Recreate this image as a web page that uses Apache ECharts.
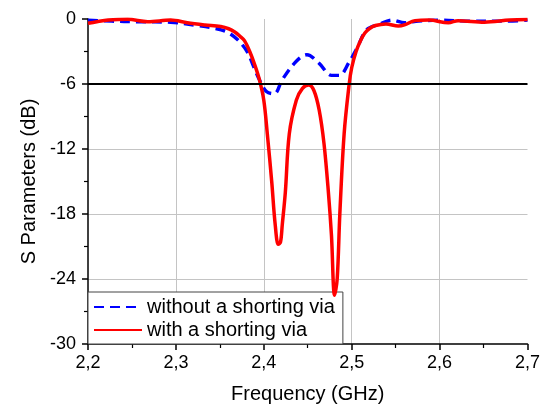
<!DOCTYPE html>
<html>
<head>
<meta charset="utf-8">
<script src="https://cdn.jsdelivr.net/npm/echarts@6/dist/echarts.min.js"></script>
<style>
  html, body { margin: 0; padding: 0; background: #fff; }
  #main { width: 543px; height: 412px; }
</style>
</head>
<body>
<div id="main"></div>
<script>
// frequency (GHz) / S parameter (dB)
var freqWithout = [2.200, 2.227, 2.255, 2.294, 2.324, 2.344, 2.358, 2.370, 2.381, 2.388, 2.395, 2.403, 2.412,
  2.421, 2.437, 2.449, 2.463, 2.477, 2.486, 2.497, 2.506, 2.517, 2.531, 2.546, 2.560, 2.576, 2.599, 2.636, 2.675, 2.700];
var sWithout = [-0.1, -0.2, -0.25, -0.3, -0.6, -0.86, -1.2, -1.9, -3.0, -4.3, -5.6, -6.7, -6.9,
  -5.6, -3.9, -3.3, -4.1, -5.2, -5.2, -4.0, -2.7, -1.0, -0.5, -0.1, -0.35, -0.2, -0.1, -0.2, -0.2, -0.1];

var freqWith = [2.200, 2.210, 2.223, 2.245, 2.268, 2.294, 2.313, 2.333, 2.351, 2.360, 2.367, 2.373, 2.378, 2.384,
  2.390, 2.395, 2.400, 2.404, 2.409, 2.413, 2.4165, 2.419, 2.421, 2.4245, 2.429, 2.437, 2.444, 2.451, 2.457,
  2.463, 2.4685, 2.4735, 2.477, 2.4805, 2.4835, 2.4865, 2.4914, 2.497, 2.500, 2.505, 2.510, 2.515, 2.520, 2.527,
  2.539, 2.553, 2.560, 2.572, 2.588, 2.610, 2.621, 2.651, 2.680, 2.700];
var sWith = [-0.4, -0.25, -0.1, -0.03, -0.25, -0.1, -0.35, -0.55, -0.7, -0.9, -1.2, -1.6, -2.0, -3.0,
  -4.3, -5.6, -7.5, -10.6, -15, -19, -20.8, -20.6, -19, -16, -10.6, -7.5, -6.4, -6.1, -6.6,
  -8.4, -11.5, -16, -20, -25.5, -24, -18, -10.6, -6.1, -4.5, -3.0, -2.0, -1.3, -0.9, -0.6,
  -0.45, -0.65, -0.55, -0.15, -0.1, -0.35, -0.15, -0.3, -0.1, -0.05];

var xTickLabels = ['2,2', '2,3', '2,4', '2,5', '2,6', '2,7'];
var yTickLabels = ['-30', '-24', '-18', '-12', '-6', '0'];
var refLevel = -6;

function pairs(xs, ys) {
  return xs.map(function (x, i) { return [x, ys[i]]; });
}

var font = 'Liberation Sans, Arial, sans-serif';
var dom = document.getElementById('main');
var myChart = echarts.init(dom, null, { renderer: 'canvas' });

var option = {
  animation: false,
  textStyle: { fontFamily: font },
  grid: { left: 88, right: 14, top: 19, bottom: 68 },
  legend: {
    orient: 'vertical',
    left: 88,
    top: 292,
    padding: [5, 8, 4, 5],
    itemWidth: 48,
    itemHeight: 18,
    itemGap: 3,
    itemStyle: { opacity: 0 },
    backgroundColor: '#fff',
    borderColor: '#444',
    borderWidth: 1,
    textStyle: { fontSize: 20, lineHeight: 20, color: '#000', fontFamily: font },
    data: ['without a shorting via', 'with a shorting via']
  },
  xAxis: {
    type: 'value',
    min: 2.2,
    max: 2.7,
    interval: 0.1,
    name: 'Frequency (GHz)',
    nameLocation: 'middle',
    nameGap: 40,
    nameTextStyle: { fontSize: 20, color: '#000', fontFamily: font },
    axisLine: { onZero: false, lineStyle: { color: '#000', width: 1.5 } },
    axisTick: { inside: false, length: 6, lineStyle: { color: '#000', width: 1.5 } },
    minorTick: { show: true, splitNumber: 2, length: 4, lineStyle: { color: '#000', width: 1.2 } },
    axisLabel: {
      fontSize: 18, color: '#000', margin: 10, fontFamily: font,
      formatter: function (v) { return xTickLabels[Math.round((v - 2.2) / 0.1)]; }
    },
    splitLine: { show: true, showMinLine: false, showMaxLine: false, lineStyle: { color: '#c4c4c4', width: 1 } }
  },
  yAxis: {
    type: 'value',
    min: -30,
    max: 0,
    interval: 6,
    name: 'S Parameters (dB)',
    nameLocation: 'middle',
    nameGap: 48,
    nameTextStyle: { fontSize: 20, color: '#000', fontFamily: font },
    axisLine: { show: true, onZero: false, lineStyle: { color: '#000', width: 1.5 } },
    axisTick: { show: true, inside: false, length: 6, lineStyle: { color: '#000', width: 1.5 } },
    minorTick: { show: true, splitNumber: 2, length: 4, lineStyle: { color: '#000', width: 1.2 } },
    axisLabel: {
      fontSize: 18, color: '#000', margin: 12, fontFamily: font,
      formatter: function (v) { return yTickLabels[Math.round((v + 30) / 6)]; }
    },
    splitLine: { show: true, showMinLine: false, showMaxLine: false, lineStyle: { color: '#c4c4c4', width: 1 } }
  },
  series: [
    {
      name: 'without a shorting via',
      type: 'line',
      data: pairs(freqWithout, sWithout),
      symbol: 'none',
      smooth: 0.35,
      color: '#0000ff',
      lineStyle: { color: '#0000ff', width: 3.4, type: [10, 6] },
      z: 3,
      markLine: {
        silent: true,
        symbol: 'none',
        label: { show: false },
        lineStyle: { color: '#000', width: 2, type: 'solid' },
        data: [{ yAxis: refLevel }]
      }
    },
    {
      name: 'with a shorting via',
      type: 'line',
      data: pairs(freqWith, sWith),
      symbol: 'none',
      smooth: 0.35,
      color: '#ff0000',
      lineStyle: { color: '#ff0000', width: 3.5 },
      z: 4
    }
  ]
};

if (option && typeof option === 'object') {
  myChart.setOption(option);
}

window.addEventListener('resize', myChart.resize);
</script>
</body>
</html>
